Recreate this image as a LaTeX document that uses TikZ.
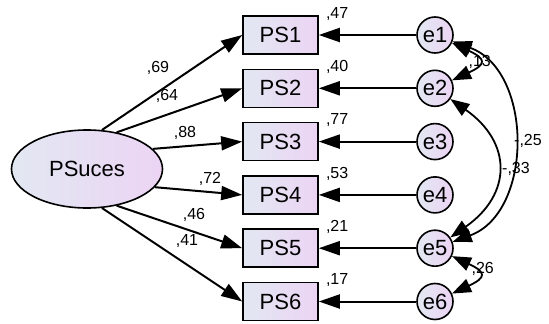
\documentclass[tikz,border=0pt]{standalone}
\usepackage{fontspec}
\setmainfont{Liberation Sans}
\usepackage{tikz}
\usetikzlibrary{positioning}
\usetikzlibrary{shapes.geometric, arrows.meta, calc}
\definecolor{greyblue}{RGB}{226,232,242}
\definecolor{lilac}{RGB}{236,212,244}

\begin{document}
\begin{tikzpicture}[x=1pt, y=-1pt]
	\tikzstyle{obs} = [rectangle, draw, line width=1.6pt, left color=greyblue, right color=lilac, minimum width=75pt, minimum height=38pt, inner sep=0pt, font=\fontsize{22}{26}\selectfont]
	\tikzstyle{latent} = [ellipse, draw, line width=1.6pt, left color=greyblue, right color=lilac, minimum width=151pt, minimum height=78pt, inner sep=0pt, font=\fontsize{22}{26}\selectfont]
	\tikzstyle{err} = [circle, draw, line width=1.6pt, left color=greyblue, right color=lilac, minimum size=36pt, inner sep=0pt, font=\fontsize{22}{26}\selectfont]
	\tikzstyle{num} = [inner sep=0pt, font=\fontsize{16}{18}\selectfont]
	\tikzstyle{load} = [-{Triangle[length=21pt, width=14pt]}, line width=2pt]
	\tikzstyle{cov} = [{Triangle[length=19pt, width=14pt]}-{Triangle[length=19pt, width=14pt]}, line width=1.8pt]

	\useasboundingbox (0,0) rectangle (549,324);

	\node (PS1) [obs] at (280.5,35) {PS1};
	\node (PS2) [obs, below=13.7pt of PS1] {PS2};
	\node (PS3) [obs, below=13.7pt of PS2] {PS3};
	\node (PS4) [obs, below=13.7pt of PS3] {PS4};
	\node (PS5) [obs, below=13.7pt of PS4] {PS5};
	\node (PS6) [obs, below=13.7pt of PS5] {PS6};

	\node (PSuces) [latent] at (87,169) {PSuces};

	\node (e1) [err, right=97.4pt of PS1] {e1};
	\node (e2) [err, right=97.4pt of PS2] {e2};
	\node (e3) [err, right=97.4pt of PS3] {e3};
	\node (e4) [err, right=97.4pt of PS4] {e4};
	\node (e5) [err, right=97.4pt of PS5] {e5};
	\node (e6) [err, right=97.4pt of PS6] {e6};

	\node (r1) [num, anchor=base west] at ($(PS1.north east)+(7,3)$) {,47};
	\node (r2) [num, anchor=base west] at ($(PS2.north east)+(7,3)$) {,40};
	\node (r3) [num, anchor=base west] at ($(PS3.north east)+(7,3)$) {,77};
	\node (r4) [num, anchor=base west] at ($(PS4.north east)+(7,3)$) {,53};
	\node (r5) [num, anchor=base west] at ($(PS5.north east)+(7,3)$) {,21};
	\node (r6) [num, anchor=base west] at ($(PS6.north east)+(7,3)$) {,17};

	\node (l1) [num] at (158,68) {,69};
	\node (l2) [num] at (167,96) {,64};
	\node (l3) [num] at (185,133) {,88};
	\node (l4) [num] at (210,179) {,72};
	\node (l5) [num] at (194,215) {,46};
	\node (l6) [num] at (187,241) {,41};

	\node (c12) [num, anchor=east] at (491,62) {,13};
	\node (c15) [num] at (528,141) {-,25};
	\node (c25) [num] at (516,169) {-,33};
	\node (c56) [num, anchor=east] at (494,269) {,26};

	\draw (PSuces.69) edge [load] (PS1.west);
	\draw (PSuces.51) edge [load] (PS2.west);
	\draw (PSuces.17) edge [load] (PS3.west);
	\draw (PSuces.-15) edge [load] (PS4.west);
	\draw (PSuces.-51) edge [load] (PS5.west);
	\draw (PSuces.-69) edge [load] (PS6.west);

	\draw (e1) edge [load] (PS1);
	\draw (e2) edge [load] (PS2);
	\draw (e3) edge [load] (PS3);
	\draw (e4) edge [load] (PS4);
	\draw (e5) edge [load] (PS5);
	\draw (e6) edge [load] (PS6);

	\draw (e1) edge [cov, out=-25, in=25, looseness=2.6] (e2);
	\draw (e5) edge [cov, out=-25, in=25, looseness=2.6] (e6);
	\draw (e1) edge [cov, out=-20, in=20, looseness=1.1] (e5);
	\draw (e2) edge [cov, out=-35, in=35, looseness=1.4] (e5);
\end{tikzpicture}
\end{document}
